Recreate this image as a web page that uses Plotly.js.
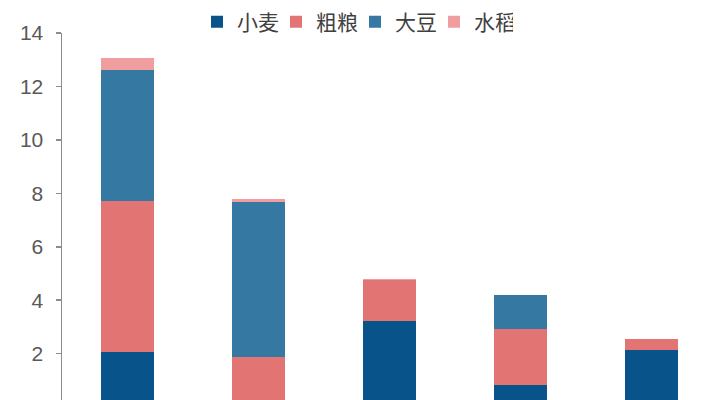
<!DOCTYPE html>
<html>
<head>
<meta charset="utf-8">
<script src="https://cdn.plot.ly/plotly-3.0.1.min.js"></script>
<style>
  html, body { margin: 0; padding: 0; background: #fff; }
  #plot { width: 720px; height: 400px; }
</style>
</head>
<body>
<div id="plot"></div>
<script>
// 分类（底部标签在原图中被裁掉）
const categories = ["美国", "巴西", "澳大利亚", "加拿大", "法国"];

// 各品种数值
const wheat    = [2.05, 0,    3.21, 0.81, 2.15]; // 小麦
const coarse   = [5.67, 1.88, 1.55, 2.13, 0.41]; // 粗粮
const soybean  = [4.89, 5.81, 0,    1.25, 0];    // 大豆
const rice     = [0.46, 0.10, 0.05, 0,    0];    // 水稻

const yTicks = [0, 2, 4, 6, 8, 10, 12, 14];

// 系列设定
const series = [
  { name: "小麦", y: wheat,   color: "#07538a" },
  { name: "粗粮", y: coarse,  color: "#e37474" },
  { name: "大豆", y: soybean, color: "#3578a1" },
  { name: "水稻", y: rice,    color: "#ef9d9e" }
];

const cjk = '"Noto Sans CJK SC", "Liberation Sans", sans-serif';

const data = series.map(s => ({
  type: "bar",
  name: s.name,
  x: categories,
  y: s.y,
  marker: { color: s.color, line: { width: 0 } },
  hoverinfo: "skip"
}));

const layout = {
  width: 720,
  height: 400,
  barmode: "stack",
  bargap: 0.59,
  margin: { l: 62, r: 3, t: 33, b: 0, pad: 0, autoexpand: false },
  paper_bgcolor: "#ffffff",
  plot_bgcolor: "#ffffff",
  showlegend: true,
  legend: {
    orientation: "h",
    xref: "container",
    yref: "container",
    x: 197 / 720,
    xanchor: "left",
    y: 1 - 22 / 400,
    yanchor: "middle",
    font: { family: cjk, size: 21, color: "#404040" },
    itemwidth: 30,
    itemgap: 5,
    entrywidth: 34,
    entrywidthmode: "pixels",
    traceorder: "normal",
    bgcolor: "rgba(0,0,0,0)"
  },
  xaxis: {
    showticklabels: false,
    showline: false,
    showgrid: false,
    zeroline: false,
    ticks: ""
  },
  yaxis: {
    range: [0.265, 14],
    tickvals: yTicks,
    ticktext: yTicks.map(String),
    showgrid: false,
    zeroline: false,
    showline: true,
    linecolor: "#8c8c8c",
    linewidth: 1.5,
    ticks: "outside",
    ticklen: 5,
    tickwidth: 1.5,
    tickcolor: "#8c8c8c",
    ticklabelstandoff: 8,
    tickfont: { family: '"Liberation Sans", Arial, sans-serif', size: 21, color: "#595959" }
  }
};

Plotly.newPlot("plot", data, layout, { displayModeBar: false, staticPlot: true });
</script>
</body>
</html>
